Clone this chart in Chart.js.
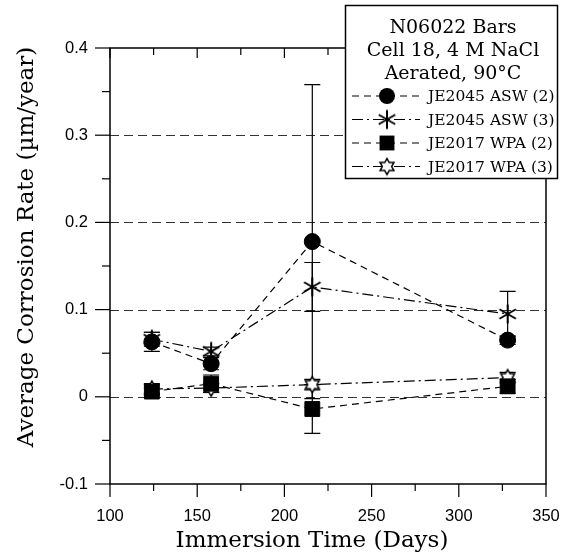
<!DOCTYPE html>
<html lang="en">
<head>
  <meta charset="UTF-8">
  <title>N06022 Bars - Average Corrosion Rate</title>
  <script src="https://cdn.jsdelivr.net/npm/chart.js"></script>
  <style>
    body { margin: 0; background: #fff; }
  </style>
</head>
<body>
  <canvas id="grafico" width="564" height="556"></canvas>

  <script>
    // dados
    const days = [124, 158, 216, 328];
    const asw2 = [0.063, 0.038, 0.178, 0.065];
    const asw2Err = [0.011, 0.007, 0.180, 0.005];
    const asw3 = [0.066, 0.052, 0.126, 0.095];
    const asw3Err = [0.008, 0.005, 0.028, 0.026];
    const wpa2 = [0.006, 0.015, -0.014, 0.012];
    const wpa2Err = [0.004, 0.010, 0.028, 0.008];
    const wpa3 = [0.009, 0.010, 0.014, 0.022];
    const wpa3Err = [0.006, 0.005, 0.006, 0.006];

    const seriesNames = ['JE2045 ASW (2)', 'JE2045 ASW (3)', 'JE2017 WPA (2)', 'JE2017 WPA (3)'];
    const legendTitle = ['N06022 Bars', 'Cell 18, 4 M NaCl', 'Aerated, 90\u00B0C'];
    const xTicks = [100, 150, 200, 250, 300, 350];
    const yTicks = [-0.1, 0, 0.1, 0.2, 0.3, 0.4];

    const serif = '"DejaVu Serif", serif';
    const dashed = [7, 5];
    const dashDot = [11, 4, 2, 4];

    // marcadores desenhados à mão
    function makeAsterisk() {
      const c = document.createElement('canvas');
      c.width = 22; c.height = 22;
      const g = c.getContext('2d');
      g.strokeStyle = '#000';
      g.lineWidth = 2;
      [90, 30, 150].forEach(a => {
        const r = a * Math.PI / 180;
        g.beginPath();
        g.moveTo(11 - 9.5 * Math.cos(r), 11 - 9.5 * Math.sin(r));
        g.lineTo(11 + 9.5 * Math.cos(r), 11 + 9.5 * Math.sin(r));
        g.stroke();
      });
      return c;
    }

    function makeHexagram() {
      const c = document.createElement('canvas');
      c.width = 20; c.height = 20;
      const g = c.getContext('2d');
      const R = 8, r = R / Math.sqrt(3);
      g.beginPath();
      for (let k = 0; k < 12; k++) {
        const a = (-90 + k * 30) * Math.PI / 180;
        const rad = k % 2 === 0 ? R : r;
        const px = 10 + rad * Math.cos(a), py = 10 + rad * Math.sin(a);
        if (k === 0) g.moveTo(px, py); else g.lineTo(px, py);
      }
      g.closePath();
      g.fillStyle = '#fff';
      g.fill();
      g.strokeStyle = '#000';
      g.lineWidth = 1.5;
      g.stroke();
      return c;
    }

    const asteriskImg = makeAsterisk();
    const hexImg = makeHexagram();

    const values = [asw2, asw3, wpa2, wpa3];
    const errors = [asw2Err, asw3Err, wpa2Err, wpa3Err];
    const styles = ['circle', asteriskImg, 'rect', hexImg];
    const radii = [8, 9, 10.5, 9];
    const dashes = [dashed, dashDot, dashed, dashDot];

    const datasets = values.map((vals, i) => ({
      label: seriesNames[i],
      data: vals.map((v, j) => ({ x: days[j], y: v })),
      borderColor: '#000',
      borderWidth: 1.2,
      borderDash: dashes[i],
      backgroundColor: '#000',
      pointBackgroundColor: '#000',
      pointBorderColor: '#000',
      pointBorderWidth: 1,
      pointStyle: styles[i],
      pointRadius: radii[i],
      fill: false,
      tension: 0
    }));

    // grade, marcas, moldura e barras de erro
    const framePlugin = {
      id: 'frame',
      beforeDatasetsDraw(chart) {
        const { ctx, chartArea: a, scales: { x, y } } = chart;
        ctx.save();
        ctx.strokeStyle = '#333';
        ctx.lineWidth = 1.2;
        ctx.setLineDash([9, 5]);
        [0, 0.1, 0.2, 0.3].forEach(v => {
          const py = Math.round(y.getPixelForValue(v)) + 0.5;
          ctx.beginPath();
          ctx.moveTo(a.left, py);
          ctx.lineTo(a.right, py);
          ctx.stroke();
        });
        ctx.setLineDash([]);
        ctx.strokeStyle = '#000';
        ctx.lineWidth = 1.5;
        ctx.strokeRect(a.left, a.top, a.right - a.left, a.bottom - a.top);

        ctx.lineWidth = 1.2;
        for (let d = 100; d <= 350; d += 25) {
          const px = x.getPixelForValue(d);
          const major = d % 50 === 0;
          ctx.beginPath();
          ctx.moveTo(px, a.bottom);
          ctx.lineTo(px, a.bottom + (major ? 13 : 7));
          ctx.moveTo(px, a.top);
          ctx.lineTo(px, a.top + (major ? 10 : 7));
          ctx.stroke();
        }
        for (let k = -2; k <= 8; k++) {
          const v = k * 0.05;
          const py = y.getPixelForValue(v);
          const major = k % 2 === 0;
          ctx.beginPath();
          ctx.moveTo(a.left, py);
          ctx.lineTo(a.left - (major ? 15 : 8), py);
          ctx.stroke();
        }

        // barras de erro
        ctx.lineWidth = 1.2;
        values.forEach((vals, i) => {
          vals.forEach((v, j) => {
            const px = x.getPixelForValue(days[j]);
            const top = y.getPixelForValue(v + errors[i][j]);
            const bot = y.getPixelForValue(v - errors[i][j]);
            ctx.beginPath();
            ctx.moveTo(px, top);
            ctx.lineTo(px, bot);
            ctx.moveTo(px - 8, top);
            ctx.lineTo(px + 8, top);
            ctx.moveTo(px - 8, bot);
            ctx.lineTo(px + 8, bot);
            ctx.stroke();
          });
        });
        ctx.restore();
      },
      afterDraw(chart) {
        const { ctx } = chart;
        ctx.save();

        // títulos dos eixos
        ctx.fillStyle = '#000';
        ctx.textAlign = 'center';
        ctx.textBaseline = 'middle';
        ctx.font = '23px ' + serif;
        ctx.fillText('Immersion Time (Days)', 312, 541);
        ctx.save();
        ctx.translate(27, 247);
        ctx.rotate(-Math.PI / 2);
        ctx.font = '23px ' + serif;
        ctx.fillText('Average Corrosion Rate (\u00B5m/year)', 0, 0);
        ctx.restore();

        // legenda
        const bx = 345.5, by = 5.5, bw = 212, bh = 173;
        ctx.fillStyle = '#fff';
        ctx.fillRect(bx, by, bw, bh);
        ctx.strokeStyle = '#000';
        ctx.lineWidth = 1.5;
        ctx.strokeRect(bx, by, bw, bh);

        ctx.fillStyle = '#000';
        ctx.font = '19px ' + serif;
        legendTitle.forEach((t, k) => ctx.fillText(t, 453, 28 + k * 23));

        ctx.textAlign = 'left';
        ctx.font = '15.5px ' + serif;
        seriesNames.forEach((name, i) => {
          const ry = 96 + i * 23.5;
          ctx.strokeStyle = '#000';
          ctx.lineWidth = 1.2;
          ctx.setLineDash(dashes[i]);
          ctx.beginPath();
          ctx.moveTo(352, ry);
          ctx.lineTo(420, ry);
          ctx.stroke();
          ctx.setLineDash([]);
          const mx = 387;
          if (styles[i] === 'circle') {
            ctx.beginPath();
            ctx.arc(mx, ry, radii[i], 0, Math.PI * 2);
            ctx.fill();
          } else if (styles[i] === 'rect') {
            const s = radii[i] * Math.SQRT1_2;
            ctx.fillRect(mx - s, ry - s, 2 * s, 2 * s);
          } else {
            const img = styles[i];
            ctx.drawImage(img, mx - img.width / 2, ry - img.height / 2);
          }
          ctx.fillText(name, 428, ry + 1);
        });
        ctx.restore();
      }
    };

    const ctx = document.getElementById('grafico').getContext('2d');
    new Chart(ctx, {
      type: 'line',
      data: { datasets: datasets },
      options: {
        responsive: false,
        animation: false,
        layout: { padding: { top: 48, right: 18, left: 0, bottom: 0 } },
        plugins: {
          legend: { display: false },
          tooltip: { enabled: false }
        },
        scales: {
          x: {
            type: 'linear',
            min: 100,
            max: 350,
            afterBuildTicks: s => { s.ticks = xTicks.map(v => ({ value: v })); },
            afterFit: s => { s.height = 72; s.paddingLeft = 0; s.paddingRight = 0; },
            grid: { display: false, drawTicks: false },
            border: { display: false },
            ticks: {
              padding: 23,
              color: '#000',
              font: { family: '"Liberation Sans", Arial, sans-serif', size: 16.5 }
            }
          },
          y: {
            type: 'linear',
            min: -0.1,
            max: 0.4,
            afterBuildTicks: s => { s.ticks = yTicks.map(v => ({ value: v })); },
            afterFit: s => { s.width = 110; s.paddingTop = 0; s.paddingBottom = 0; },
            grid: { display: false, drawTicks: false },
            border: { display: false },
            ticks: {
              padding: 22,
              color: '#000',
              font: { family: '"Liberation Sans", Arial, sans-serif', size: 16.5 },
              callback: v => String(Math.round(v * 10) / 10)
            }
          }
        }
      },
      plugins: [framePlugin]
    });
  </script>
</body>
</html>
